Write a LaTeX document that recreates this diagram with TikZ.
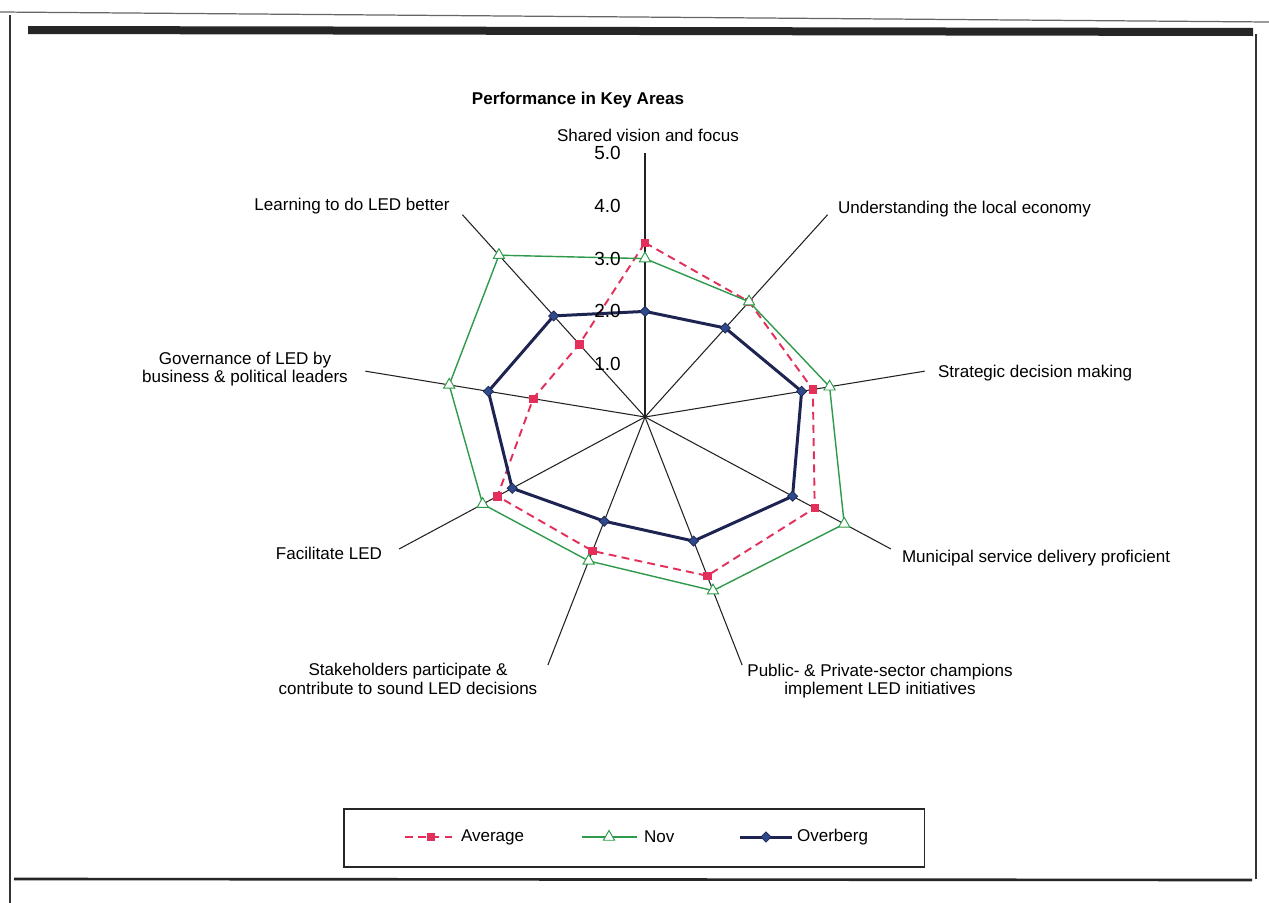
\documentclass[tikz,border=0pt]{standalone}
\usepackage{fontspec}
\setmainfont{Liberation Sans}
\usetikzlibrary{shapes.geometric}
\definecolor{avgred}{HTML}{E3305B}
\definecolor{novgreen}{HTML}{2F9A4C}
\definecolor{ovnavy}{HTML}{1E2452}
\definecolor{ovblue}{HTML}{2E4A8A}
\definecolor{spokegray}{HTML}{222222}
\begin{document}
\begin{tikzpicture}[x=0.02cm,y=-0.02cm,
  font=\fontsize{9.7}{10}\selectfont,
  txt/.style={inner sep=0pt, outer sep=0pt, align=center},
  ticklbl/.style={inner sep=0pt, anchor=east, font=\fontsize{10.8}{11}\selectfont},
  spoke/.style={draw=spokegray, line width=0.6pt},
  avgline/.style={draw=avgred, line width=1.1pt, dash pattern=on 4.5pt off 3pt},
  novline/.style={draw=novgreen, line width=0.8pt},
  ovline/.style={draw=ovnavy, line width=1.7pt},
  avgmk/.style={rectangle, fill=avgred, draw=avgred, minimum size=0.15cm, inner sep=0pt},
  novmk/.style={regular polygon, regular polygon sides=3, draw=novgreen, fill=white, minimum size=0.26cm, inner sep=0pt, line width=0.55pt},
  ovmk/.style={diamond, fill=ovblue, draw=ovnavy, minimum size=0.21cm, inner sep=0pt, line width=0.4pt},
  framel/.style={draw=black!80, line width=0.9pt}
]
\useasboundingbox (0,0) rectangle (1269,903);
\fill[white] (0,0) rectangle (1269,903);

% page frame
\draw[draw=black!60, line width=0.7pt] (0,12) -- (1269,22);
\fill[black!85] (28,26) -- (1253,28) -- (1253,36) -- (28,34) -- cycle;
\draw[framel] (10,15) -- (10,903);
\draw[framel] (1256,34) -- (1256,879);
\draw[draw=black!85, line width=1.5pt] (14,879) -- (1252,880);

% chart geometry
\coordinate (C) at (645,417);
\foreach \i in {0,...,8}{
  \pgfmathsetmacro\t{90-40*\i}
  \coordinate (S\i) at ({645+284*cos(\t)},{417-264*sin(\t)});
}
\foreach \i in {0,...,8}{\draw[spoke] (C) -- (S\i);}

% data points
\foreach \i/\a/\n/\o in {0/3.3/3.0/2.0, 1/2.85/2.85/2.2, 2/3.0/3.3/2.8, 3/3.45/4.05/3.0, 4/3.2/3.5/2.5, 5/2.7/2.9/2.1, 6/3.0/3.3/2.7, 7/2.0/3.5/2.8, 8/1.8/4.0/2.5}{
  \pgfmathsetmacro\t{90-40*\i}
  \coordinate (A\i) at ({645+56.8*\a*cos(\t)},{417-52.8*\a*sin(\t)});
  \coordinate (N\i) at ({645+56.8*\n*cos(\t)},{417-52.8*\n*sin(\t)});
  \coordinate (O\i) at ({645+56.8*\o*cos(\t)},{417-52.8*\o*sin(\t)});
}

% Average series
\draw[avgline] (A0) -- (A1) -- (A2) -- (A3) -- (A4) -- (A5) -- (A6) -- (A7) -- (A8) -- cycle;
\foreach \i in {0,...,8}{\node[avgmk] (am\i) at (A\i) {};}
% Nov series
\draw[novline] (N0) -- (N1) -- (N2) -- (N3) -- (N4) -- (N5) -- (N6) -- (N7) -- (N8) -- cycle;
\foreach \i in {0,...,8}{\node[novmk] (nm\i) at (N\i) {};}
% Overberg series
\draw[ovline, line join=round] (O0) -- (O1) -- (O2) -- (O3) -- (O4) -- (O5) -- (O6) -- (O7) -- (O8) -- cycle;
\foreach \i in {0,...,8}{\node[ovmk] (om\i) at (O\i) {};}

% tick labels
\foreach \k in {1,...,5}{\node[ticklbl] (tk\k) at (621,{417-52.8*\k}) {\k.0};}

% title
\node[txt, font=\fontsize{9.7}{10}\selectfont\bfseries] (title) at (578,100) {Performance in Key Areas};

% category labels
\node[txt] (l0) at (648,135) {Shared vision and focus};
\node[txt, anchor=west] (l1) at (838,209) {Understanding the local economy};
\node[txt, anchor=west] (l2) at (938,373) {Strategic decision making};
\node[txt, anchor=west] (l3) at (902,558) {Municipal service delivery proficient};
\node[txt] (l4) at (880,681) {Public- \& Private-sector champions\\[0.6pt]implement LED initiatives};
\node[txt] (l5) at (408,679) {Stakeholders participate \&\\[0.6pt]contribute to sound LED decisions};
\node[txt] (l6) at (329,553) {Facilitate LED};
\node[txt] (l7) at (245,369) {Governance of LED by\\[0.6pt]business \& political leaders};
\node[txt] (l8) at (352,206) {Learning to do LED better};

% legend
\node[draw=black!85, line width=0.9pt, anchor=north west, minimum width=11.62cm, minimum height=1.16cm, inner sep=0pt] (legend) at (343,808) {};
\coordinate (la1) at (405,837); \coordinate (la2) at (457,837);
\draw[avgline] (la1) -- (la2);
\node[avgmk] (lam) at (431,837) {};
\node[txt, anchor=west] (lat) at (461,837) {Average};
\coordinate (ln1) at (582,837); \coordinate (ln2) at (637,837);
\draw[novline] (ln1) -- (ln2);
\node[novmk] (lnm) at (609,837) {};
\node[txt, anchor=west] (lnt) at (644,837) {Nov};
\coordinate (lo1) at (740,837); \coordinate (lo2) at (792,837);
\draw[ovline] (lo1) -- (lo2);
\node[ovmk] (lom) at (766,837) {};
\node[txt, anchor=west] (lot) at (797,837) {Overberg};
\end{tikzpicture}
\end{document}
